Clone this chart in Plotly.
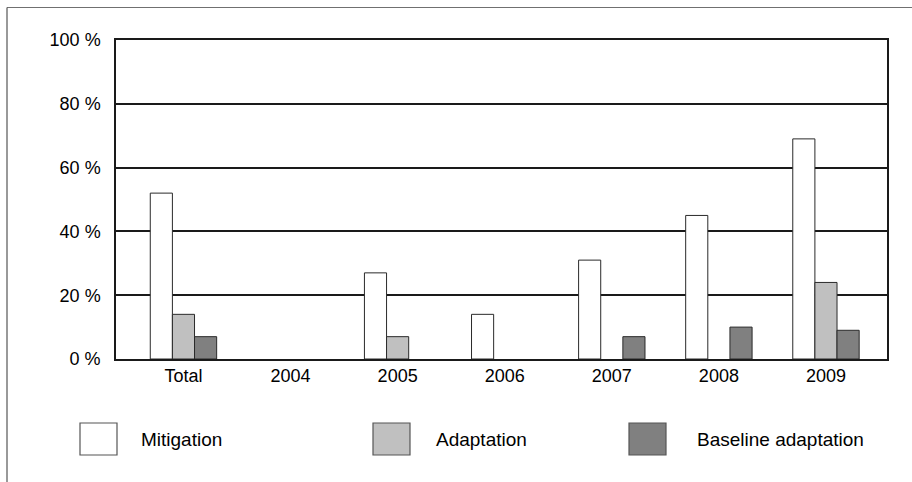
import plotly.graph_objects as go

# Share of projects by year
categories = ["Total", "2004", "2005", "2006", "2007", "2008", "2009"]
mitigation = [52, None, 27, 14, 31, 45, 69]
adaptation = [14, None, 7, None, None, None, 24]
baseline_adaptation = [7, None, None, None, 7, 10, 9]

series = [
    ("Mitigation", mitigation, "#ffffff"),
    ("Adaptation", adaptation, "#c0c0c0"),
    ("Baseline adaptation", baseline_adaptation, "#808080"),
]

W, H = 912, 482
ML, MR, MT, MB = 116, 25, 40, 123
FONT = "Liberation Sans, Arial, sans-serif"

fig = go.Figure()
for name, vals, color in series:
    fig.add_trace(go.Bar(
        x=categories, y=vals, name=name,
        marker=dict(color=color, line=dict(color="#2a2a2a", width=1)),
        showlegend=False,
    ))

pw = W - ML - MR
ph = H - MT - MB


def px_x(px):
    return (px - ML) / pw


def px_y(py):
    return (H - MB - py) / ph


shapes = []
annotations = []

# Legend drawn as large swatches with labels
legend_items = [(80, 139), (373, 434), (629, 695)]
for (sx, tx), (name, _, color) in zip(legend_items, series):
    shapes.append(dict(
        type="rect", xref="paper", yref="paper",
        x0=px_x(sx), x1=px_x(sx + 37), y0=px_y(455), y1=px_y(423),
        fillcolor=color, line=dict(color="#555555", width=1.2),
    ))
    annotations.append(dict(
        xref="paper", yref="paper", x=px_x(tx), y=px_y(439),
        text=name, showarrow=False, xanchor="left", yanchor="middle",
        font=dict(family=FONT, size=19, color="#000000"),
    ))

# Outer frame (top and left edges)
shapes.append(dict(type="line", xref="paper", yref="paper",
                   x0=px_x(7), x1=px_x(W + 2), y0=px_y(7.5), y1=px_y(7.5),
                   line=dict(color="#707070", width=1.2)))
shapes.append(dict(type="line", xref="paper", yref="paper",
                   x0=px_x(7), x1=px_x(7), y0=px_y(7.5), y1=px_y(H + 2),
                   line=dict(color="#555555", width=1.2)))

fig.update_layout(
    width=W, height=H,
    margin=dict(l=ML, r=MR, t=MT, b=MB),
    paper_bgcolor="#ffffff", plot_bgcolor="#ffffff",
    barmode="group", bargap=0.38, bargroupgap=0,
    font=dict(family=FONT, size=18, color="#000000"),
    shapes=shapes, annotations=annotations,
)
fig.update_xaxes(
    type="category", range=[-0.63, 6.57],
    showline=True, mirror=True, linecolor="#1a1a1a", linewidth=1.5,
    showgrid=False, ticks="", ticklabelstandoff=0,
    tickfont=dict(family=FONT, size=18),
)
fig.update_yaxes(
    range=[0, 100], tickvals=[0, 20, 40, 60, 80, 100],
    ticktext=["0 %", "20 %", "40 %", "60 %", "80 %", "100 %"],
    showline=True, mirror=True, linecolor="#1a1a1a", linewidth=1.5,
    showgrid=True, gridcolor="#1a1a1a", gridwidth=1.5,
    zeroline=False, ticks="", ticklabelstandoff=10,
    tickfont=dict(family=FONT, size=18),
)

fig.write_html("out.html")
